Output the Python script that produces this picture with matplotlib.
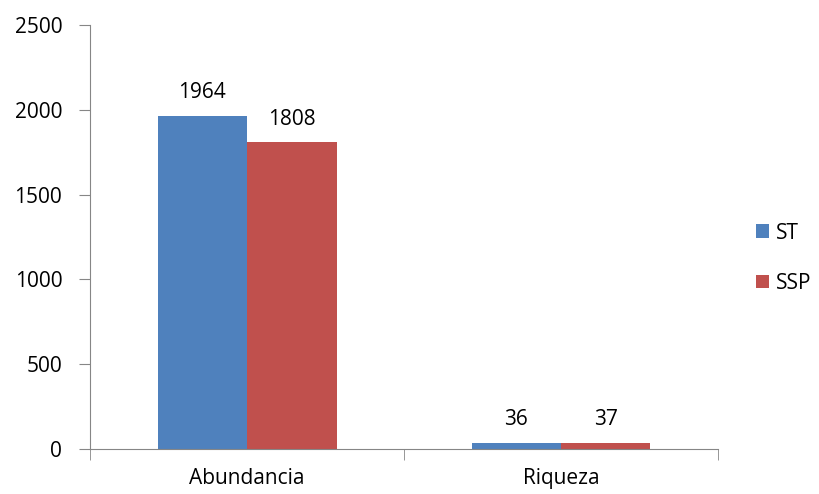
import matplotlib
matplotlib.use("Agg")
import matplotlib.pyplot as plt
import numpy as np

plt.rcParams['font.family'] = ['Open Sans', 'DejaVu Sans']

categories = ['Abundancia', 'Riqueza']
series_names = ['ST', 'SSP']
st_values = [1964, 36]
ssp_values = [1808, 37]
colors = ['#4F81BD', '#C0504D']

fs = 15
fig = plt.figure(figsize=(8.2, 4.94), dpi=100)
ax = fig.add_axes([0.1098, 0.0911, 0.7658, 0.8583])

x = np.arange(len(categories))
w = 0.285
b1 = ax.bar(x - w / 2, st_values, w, color=colors[0], label=series_names[0])
b2 = ax.bar(x + w / 2, ssp_values, w, color=colors[1], label=series_names[1])

for bars in (b1, b2):
    for r in bars:
        ax.text(r.get_x() + r.get_width() / 2, r.get_height() + 75,
                f"{int(r.get_height())}", ha='center', va='bottom', fontsize=fs)

ax.set_xlim(-0.5, 1.5)
ax.set_ylim(0, 2500)
ax.set_yticks(range(0, 2501, 500))
ax.set_xticks([0, 1])
ax.set_xticklabels(categories)
ax.set_xticks([-0.5, 0.5, 1.5], minor=True)
ax.tick_params(axis='x', which='major', length=0, pad=14, labelsize=fs)
ax.tick_params(axis='x', which='minor', length=8, color='#868686', direction='out')
ax.tick_params(axis='y', length=8, color='#868686', direction='out', pad=12, labelsize=fs)

for s in ['top', 'right']:
    ax.spines[s].set_visible(False)
for s in ['left', 'bottom']:
    ax.spines[s].set_color('#868686')

ax.legend(loc='center left', bbox_to_anchor=(1.03, 0.45), frameon=False,
          fontsize=fs, handlelength=0.65, handleheight=0.65, labelspacing=1.4,
          handletextpad=0.35)

fig.savefig('out.png', dpi=100)
